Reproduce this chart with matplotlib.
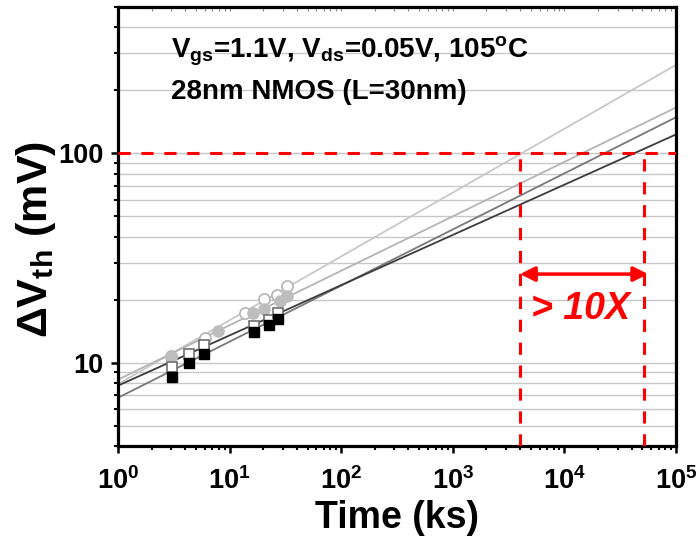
import numpy as np
import matplotlib
matplotlib.use("Agg")
import matplotlib.pyplot as plt
from matplotlib.ticker import LogLocator, FixedLocator, FuncFormatter, NullFormatter

plt.rcParams['font.family'] = ['Liberation Sans', 'DejaVu Sans']
plt.rcParams['font.weight'] = 'bold'
plt.rcParams['mathtext.fontset'] = 'custom'
plt.rcParams['mathtext.rm'] = 'Liberation Sans:bold'
plt.rcParams['mathtext.bf'] = 'Liberation Sans:bold'
plt.rcParams['mathtext.it'] = 'Liberation Sans:bold:italic'

# stress data (time in ks, dVth in mV)
t_sq_fill = [3.07, 4.35, 5.93, 16.4, 22.5, 27.0]
v_sq_fill = [8.5, 10.0, 11.0, 14.0, 15.2, 16.2]

t_sq_open = [3.07, 4.35, 5.93, 16.4, 22.5, 27.0]
v_sq_open = [9.5, 11.0, 12.1, 15.0, 16.0, 17.2]

t_ci_fill = [3.0, 7.9, 16.3, 20.4, 28.0, 32.4]
v_ci_fill = [10.6, 14.2, 17.2, 18.1, 19.8, 20.8]

t_ci_open = [3.0, 6.0, 13.7, 20.4, 26.5, 32.4]
v_ci_open = [10.8, 13.1, 17.2, 20.2, 21.1, 23.2]

# power-law fits: dVth = A * t^n
fit_A = [7.9, 8.3, 6.8, 7.77]
fit_n = [0.305, 0.26, 0.268, 0.24]
fit_col = ['#c8c8c8', '#b4b4b4', '#787878', '#3c3c3c']

t_lo, t_hi = 4000, 52000
v_arrow = 26.5

fig = plt.figure(figsize=(6.97, 5.38), dpi=100)
ax = fig.add_axes([0.1693, 0.171, 0.8007, 0.816])
ax.set_xscale('log')
ax.set_yscale('log')
ax.set_xlim(1, 1e5)
ax.set_ylim(4, 500)

ax.yaxis.set_minor_locator(LogLocator(base=10, subs=np.arange(2, 10)))
ax.grid(True, axis='y', which='both', color='#c8c8c8', lw=1.0, zorder=0)

tt = np.logspace(0, 5, 200)
for A, n, c in zip(fit_A, fit_n, fit_col):
    ax.plot(tt, A * tt ** n, color=c, lw=1.3, zorder=2)

ax.plot(t_ci_open, v_ci_open, 'o', ms=8, mfc='white', mec='#b4b4b4', mew=1.2, zorder=3)
ax.plot(t_ci_fill, v_ci_fill, 'o', ms=8, mfc='#bdbdbd', mec='#bdbdbd', zorder=4)
ax.plot(t_sq_open, v_sq_open, 's', ms=7, mfc='white', mec='#707070', mew=1.2, zorder=5)
ax.plot(t_sq_fill, v_sq_fill, 's', ms=7, mfc='black', mec='black', zorder=6)

red = '#ff0000'
ax.plot([1, 1e5], [100, 100], '--', color=red, lw=2.2, dashes=(4, 3.5), zorder=7)
ax.plot([t_lo, t_lo], [4, 100], '--', color=red, lw=2.2, dashes=(4, 3.5), zorder=7)
ax.plot([t_hi, t_hi], [4, 100], '--', color=red, lw=2.2, dashes=(4, 3.5), zorder=7)
ax.annotate('', xy=(t_lo, v_arrow), xytext=(t_hi * 1.08, v_arrow),
            arrowprops=dict(arrowstyle='<|-|>', color=red, lw=2.5,
                            mutation_scale=22, shrinkA=0, shrinkB=0), zorder=8)
ax.text(14000, 18.0, '> 10X', color=red, fontsize=27, fontstyle='italic',
        fontweight='bold', ha='center', va='center', zorder=8)

ax.text(3.0, 288, r'V$_\mathbf{gs}$=1.1V, V$_\mathbf{ds}$=0.05V, 105$^\mathbf{o}$C',
        fontsize=20, fontweight='bold', va='baseline')
ax.text(3.0, 181, '28nm NMOS (L=30nm)', fontsize=20, fontweight='bold', va='baseline')

ax.xaxis.set_major_locator(FixedLocator([1, 10, 100, 1e3, 1e4, 1e5]))
ax.xaxis.set_major_formatter(FuncFormatter(lambda v, p: r'$\mathbf{10^{%d}}$' % round(np.log10(v))))
ax.xaxis.set_minor_formatter(NullFormatter())
ax.yaxis.set_major_locator(FixedLocator([10, 100]))
ax.yaxis.set_major_formatter(FuncFormatter(lambda v, p: '%d' % v))
ax.yaxis.set_minor_formatter(NullFormatter())

ax.tick_params(which='major', direction='out', length=5, width=1.8, labelsize=19.5)
ax.tick_params(which='minor', direction='out', length=3, width=1.5)
ax.tick_params(axis='x', which='major', pad=10)
ax.tick_params(axis='y', which='major', pad=5.5)
for s in ax.spines.values():
    s.set_linewidth(2.3)

# small inward ticks along the top edge
top = ax.secondary_xaxis('top')
top.xaxis.set_major_locator(FixedLocator([1, 10, 100, 1e3, 1e4, 1e5]))
top.tick_params(which='both', direction='in', length=3, width=0.8, color='#888888',
                labeltop=False)
top.spines['top'].set_visible(False)

ax.set_xlabel('Time (ks)', fontsize=27, fontweight='bold', labelpad=4)
fig.text(0.052, 0.555, r'$\Delta$V$_\mathbf{th}$ (mV)', fontsize=31, fontweight='bold',
         rotation=90, ha='center', va='center')

fig.savefig('out.png', dpi=100)
